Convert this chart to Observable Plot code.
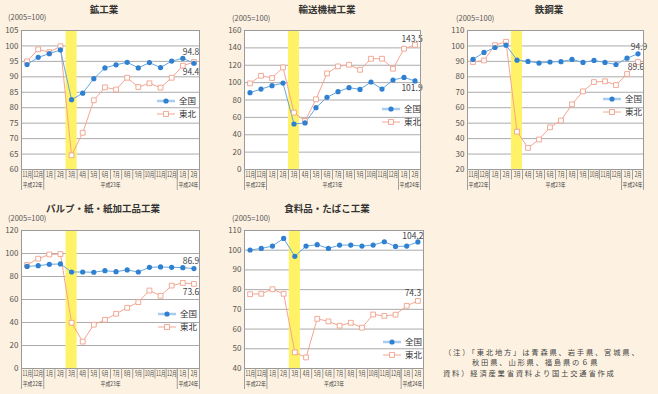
<!DOCTYPE html>
<html>
<head>
<meta charset="utf-8">
<script src="https://cdn.jsdelivr.net/npm/d3@7"></script>
<script src="https://cdn.jsdelivr.net/npm/@observablehq/plot@0.6"></script>
<style>
  html, body { margin: 0; padding: 0; background: #fdf2e1; }
  #root { position: relative; width: 658px; height: 394px; background: #fdf2e1; overflow: hidden;
          font-family: "Noto Sans CJK JP", "Noto Sans", sans-serif; color: #333; }
  #root svg.plot-layer { position: absolute; left: 0; top: 0; }
  .lbl { position: absolute; white-space: nowrap; line-height: 1; }
</style>
</head>
<body>
<div id="root"></div>
<script>
// ---------- data ----------
const months = ["11月","12月","1月","2月","3月","4月","5月","6月","7月","8月","9月","10月","11月","12月","1月","2月"];
const years = [
  {label: "平成22年", first: 0, last: 1},
  {label: "平成23年", first: 2, last: 13},
  {label: "平成24年", first: 14, last: 15}
];
const seriesNames = ["全国", "東北"];

const mining_ticks = [60, 65, 70, 75, 80, 85, 90, 95, 100, 105];
const mining_national = [94.0, 96.3, 97.5, 98.7, 82.6, 84.7, 89.4, 92.9, 93.9, 94.7, 92.9, 94.6, 93.0, 95.1, 96.0, 94.4];
const mining_tohoku   = [95.0, 98.9, 98.0, 99.9, 64.6, 71.9, 82.4, 86.6, 85.9, 89.7, 86.7, 87.9, 86.5, 89.7, 93.6, 94.8];

const transport_ticks = [0, 20, 40, 60, 80, 100, 120, 140, 160];
const transport_national = [88.4, 92.6, 96.5, 99.5, 52.4, 53.6, 71.2, 83.1, 89.6, 94.2, 92.2, 100.7, 92.6, 103.0, 106.0, 101.9];
const transport_tohoku   = [99.1, 107.9, 105.3, 117.5, 65.5, 55.9, 80.8, 110.6, 118.7, 120.6, 114.8, 127.5, 127.5, 116.0, 139.0, 143.5];

const steel_ticks = [20, 30, 40, 50, 60, 70, 80, 90, 100, 110];
const steel_national = [91.3, 95.8, 99.0, 100.5, 90.8, 90.0, 88.9, 89.6, 89.8, 91.3, 89.3, 90.6, 89.3, 88.0, 92.1, 94.9];
const steel_tohoku   = [89.6, 90.6, 100.5, 102.7, 44.5, 34.0, 39.4, 47.3, 51.7, 62.2, 70.6, 76.6, 77.1, 74.7, 81.8, 89.6];

const pulp_ticks = [0, 20, 40, 60, 80, 100, 120];
const pulp_national = [88.8, 89.4, 90.6, 90.9, 83.9, 83.9, 83.7, 85.1, 84.2, 85.7, 83.9, 88.0, 88.3, 88.0, 87.7, 86.9];
const pulp_tohoku   = [90.0, 95.5, 99.2, 99.5, 39.8, 23.4, 38.1, 42.4, 47.6, 52.8, 57.7, 67.8, 63.2, 72.1, 74.4, 73.6];

const food_ticks = [40, 50, 60, 70, 80, 90, 100, 110];
const food_national = [100.1, 100.9, 102.1, 106.0, 96.9, 102.1, 102.8, 100.9, 102.6, 102.6, 102.1, 102.6, 104.3, 101.9, 102.1, 104.2];
const food_tohoku   = [77.7, 77.9, 80.2, 77.9, 48.2, 45.6, 65.2, 63.9, 61.7, 63.2, 60.7, 67.4, 66.7, 67.3, 71.8, 74.3];

const unitText = "(2005=100)";
const noteLines = ["（注）「東北地方」は青森県、岩手県、宮城県、", "秋田県、山形県、福島県の６県", "資料）経済産業省資料より国土交通省作成"];

// ---------- layout ----------
const W = 658, H = 394;
const panels = [
  {title: "鉱工業", national: mining_national, tohoku: mining_tohoku, ticks: mining_ticks,
   box: [21, 30, 199, 169], titleX: 104, titleY: 10, unitX: 8, unitY: 17, legX: 157, legY: 101,
   labNat: [-3, 9], labToh: [-3, -9.5]},
  {title: "輸送機械工業", national: transport_national, tohoku: transport_tohoku, ticks: transport_ticks,
   box: [244, 30, 420, 169], titleX: 327, titleY: 10, unitX: 232, unitY: 18, legX: 382, legY: 109,
   labNat: [-3, 7], labToh: [-3, -6]},
  {title: "鉄鋼業", national: steel_national, tohoku: steel_tohoku, ticks: steel_ticks,
   box: [467, 30, 643, 169], titleX: 549, titleY: 10, unitX: 456, unitY: 18, legX: 603, legY: 99,
   labNat: [1, -6.5], labToh: [-2, 5.5]},
  {title: "パルプ・紙・紙加工品工業", national: pulp_national, tohoku: pulp_tohoku, ticks: pulp_ticks,
   box: [21, 230, 199, 368], titleX: 103, titleY: 209, unitX: 8, unitY: 218, legX: 158, legY: 314,
   labNat: [-3, -7], labToh: [-3, 8]},
  {title: "食料品・たばこ工業", national: food_national, tohoku: food_tohoku, ticks: food_ticks,
   box: [244, 230, 423, 368], titleX: 327, titleY: 209, unitX: 232, unitY: 218, legX: 383, legY: 342,
   labNat: [-5, -6], labToh: [-5, -7.5]}
];

const C = {
  natDot: "#2f80d0", natLine: "#64a6e2", natLegend: "#a9cdee",
  tohLine: "#f5a592", tohStroke: "#f0a08a",
  grid: "#ababab", frame: "#9a9a9a", sep: "#a0a0a0", hi: "#fff266", text: "#444"
};
const FONT = '"Noto Sans CJK JP", "Noto Sans", sans-serif';

const root = document.getElementById("root");
const idx = d3.range(months.length);
const hiIndex = months.indexOf("3月");
const bounds = years.map(d => d.first - 0.5).concat([years[years.length - 1].last + 0.5]);

function addPlot(svg) {
  svg.classList.add("plot-layer");
  root.appendChild(svg);
  return svg;
}

function mainPlot(p) {
  const [L, T, R, B] = p.box;
  const n = months.length;
  const nat = idx.map(i => ({i, v: p.national[i]}));
  const toh = idx.map(i => ({i, v: p.tohoku[i]}));
  return Plot.plot({
    width: W, height: H,
    marginLeft: L, marginRight: W - R, marginTop: T, marginBottom: H - B,
    style: {background: "transparent", fontFamily: FONT, fontSize: "8px", color: "#555", overflow: "visible"},
    x: {domain: [-0.5, n - 0.5], axis: null},
    y: {domain: [p.ticks[0], p.ticks[p.ticks.length - 1]], ticks: p.ticks, tickSize: 0, tickPadding: 3, label: null, tickFormat: d => String(d)},
    marks: [
      Plot.frame({fill: "white", stroke: null}),
      Plot.ruleY(p.ticks, {stroke: C.grid, strokeWidth: 1}),
      Plot.rect([hiIndex], {x1: d => d - 0.5, x2: d => d + 0.5, fill: C.hi}),
      Plot.line(toh, {x: "i", y: "v", stroke: C.tohLine, strokeWidth: 1}),
      Plot.line(nat, {x: "i", y: "v", stroke: C.natLine, strokeWidth: 1}),
      Plot.dot(toh, {x: "i", y: "v", symbol: "square", r: 2.7, fill: "white", stroke: C.tohStroke, strokeWidth: 0.9}),
      Plot.dot(nat, {x: "i", y: "v", r: 2.6, fill: C.natDot, stroke: null}),
      Plot.text([nat[n - 1]], {x: "i", y: "v", text: d => d.v.toFixed(1), dx: p.labNat[0], dy: p.labNat[1], fontSize: 8.5, fill: C.text}),
      Plot.text([toh[n - 1]], {x: "i", y: "v", text: d => d.v.toFixed(1), dx: p.labToh[0], dy: p.labToh[1], fontSize: 8.5, fill: C.text}),
      Plot.frame({stroke: C.frame, strokeWidth: 1})
    ]
  });
}

function stripPlot(p) {
  const [L, T, R, B] = p.box;
  const n = months.length;
  return Plot.plot({
    width: W, height: H,
    marginLeft: L, marginRight: W - R, marginTop: B, marginBottom: H - (B + 21),
    style: {background: "transparent", fontFamily: FONT, overflow: "visible"},
    x: {domain: [-0.5, n - 0.5], axis: null},
    y: {domain: [0, 2], reverse: true, axis: null},
    marks: [
      Plot.ruleX(idx.slice(0, -1), {x: i => i + 0.5, y1: 0, y2: 1, stroke: C.sep}),
      Plot.ruleX(bounds, {x: d => d, y1: 0, y2: 2, stroke: C.sep}),
      Plot.text(idx, {x: i => i, y: 0.5, text: i => months[i], fontSize: 7, fill: C.text}),
      Plot.text(years, {x: d => (d.first + d.last) / 2, y: 1.45, text: "label", fontSize: 6, fill: C.text})
    ]
  });
}

// squeeze axis labels horizontally, about their own centre (after they are in the DOM)
function squeeze(svg) {
  const sr = svg.getBoundingClientRect();
  d3.select(svg).selectAll("text").each(function () {
    const t = this.textContent;
    let target = null;
    if (/月$/.test(t)) target = t.length > 2 ? 9.6 : 7;
    else if (/年$/.test(t)) target = 20;
    if (target == null) return;
    const r = this.getBoundingClientRect();
    if (!r.width) return;
    const s = Math.min(1, target / r.width);
    const cx = r.left + r.width / 2 - sr.left;
    const tr = this.getAttribute("transform") || "";
    this.setAttribute("transform", `translate(${cx},0) scale(${s},1) translate(${-cx},0) ${tr}`);
  });
}

function label(text, x, y, css) {
  const d = document.createElement("div");
  d.className = "lbl";
  d.textContent = text;
  d.style.left = x + "px";
  d.style.top = y + "px";
  Object.assign(d.style, css);
  root.appendChild(d);
  return d;
}

function legend(p) {
  const svg = d3.create("svg").attr("width", 60).attr("height", 26)
    .style("position", "absolute").style("left", p.legX + "px").style("top", (p.legY - 6) + "px")
    .style("overflow", "visible");
  const g = svg.selectAll("g").data(seriesNames).join("g").attr("transform", (d, i) => `translate(0,${6 + i * 13})`);
  g.append("line").attr("x1", 0).attr("x2", 18)
    .attr("stroke", (d, i) => i === 0 ? C.natLegend : C.tohLine)
    .attr("stroke-width", (d, i) => i === 0 ? 2.5 : 1);
  g.filter((d, i) => i === 0).append("circle").attr("cx", 9).attr("r", 2.6).attr("fill", C.natDot);
  g.filter((d, i) => i === 1).append("rect").attr("x", 6.6).attr("y", -2.4).attr("width", 4.8).attr("height", 4.8)
    .attr("fill", "white").attr("stroke", C.tohStroke).attr("stroke-width", 0.9);
  g.append("text").attr("x", 22).attr("dy", "0.35em").attr("font-size", 8.5).attr("fill", "#333")
    .attr("font-family", FONT).text(d => d);
  root.appendChild(svg.node());
}

for (const p of panels) {
  addPlot(mainPlot(p));
  squeeze(addPlot(stripPlot(p)));
  label(p.title, p.titleX, p.titleY, {transform: "translate(-50%,-50%)", fontSize: "9.5px", fontWeight: "bold", color: "#333"});
  label(unitText, p.unitX, p.unitY, {transform: "translate(0,-50%)", fontSize: "7.5px", color: "#555"});
  legend(p);
}

const noteCss = {transform: "translate(0,-50%)", fontSize: "7.3px", letterSpacing: "1.8px", color: "#444"};
label(noteLines[0], 444, 352.5, noteCss);
label(noteLines[1], 472, 363, noteCss);
label(noteLines[2], 443, 373.5, noteCss);
</script>
</body>
</html>
